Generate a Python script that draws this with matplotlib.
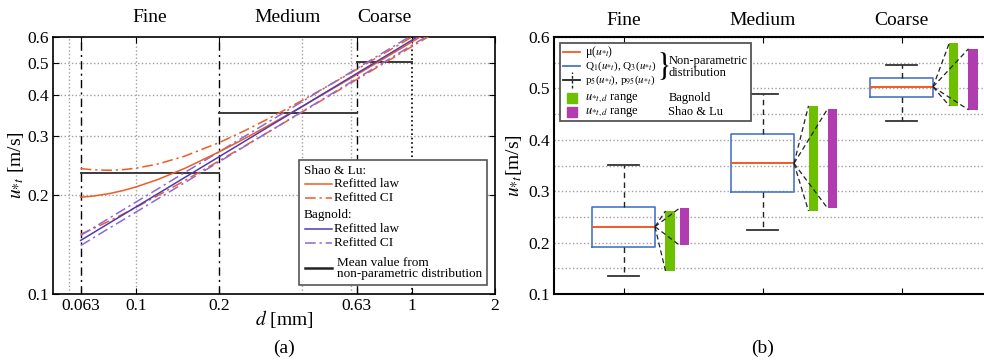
import numpy as np
import matplotlib
matplotlib.use('Agg')
import matplotlib.pyplot as plt
from matplotlib.patches import Rectangle
from matplotlib.lines import Line2D

plt.rcParams['font.family'] = ['Liberation Serif', 'DejaVu Serif']
plt.rcParams['mathtext.fontset'] = 'stix'

# === Dati pannello (a): soglia u*t in funzione di d ===
d_mm = [0.063, 0.07, 0.08, 0.09, 0.1, 0.12, 0.15, 0.2, 0.25, 0.3, 0.4, 0.5, 0.63, 0.8, 1.0, 1.2]
shao_law = [0.1964, 0.1979, 0.2014, 0.2058, 0.2110, 0.2222, 0.2400, 0.2693, 0.2969, 0.3228,
            0.3698, 0.4120, 0.4613, 0.5190, 0.5797, 0.6348]
shao_ci_hi = [0.2397, 0.2377, 0.2369, 0.2380, 0.2404, 0.2475, 0.2614, 0.2873, 0.3134, 0.3386,
              0.3855, 0.4281, 0.4784, 0.5376, 0.6000, 0.6567]
shao_ci_lo = [0.1517, 0.1578, 0.1664, 0.1748, 0.1830, 0.1987, 0.2204, 0.2530, 0.2820, 0.3085,
              0.3557, 0.3974, 0.4458, 0.5022, 0.5614, 0.6150]
bag_law = [0.1453, 0.1533, 0.1640, 0.1740, 0.1835, 0.2012, 0.2252, 0.2604, 0.2915, 0.3196,
           0.3695, 0.4137, 0.4649, 0.5244, 0.5870, 0.6437]
bag_ci_hi = [0.1504, 0.1587, 0.1697, 0.1801, 0.1899, 0.2082, 0.2331, 0.2695, 0.3017, 0.3308,
             0.3824, 0.4282, 0.4812, 0.5428, 0.6075, 0.6662]
bag_ci_lo = [0.1402, 0.1479, 0.1583, 0.1679, 0.1771, 0.1942, 0.2173, 0.2513, 0.2813, 0.3084,
             0.3566, 0.3992, 0.4486, 0.5060, 0.5665, 0.6212]

class_bounds = [0.063, 0.2, 0.63, 1.0]
class_names = ['Fine', 'Medium', 'Coarse']
mean_nonpar = [0.232, 0.354, 0.503]

# === Dati pannello (b): distribuzione non parametrica ===
p5 = [0.135, 0.2245, 0.437]
q1 = [0.191, 0.299, 0.483]
med = [0.231, 0.354, 0.503]
q3 = [0.269, 0.411, 0.521]
p95 = [0.3516, 0.489, 0.5455]
bag_range_lo = [0.145, 0.2615, 0.466]
bag_range_hi = [0.2615, 0.466, 0.589]
shao_range_lo = [0.195, 0.267, 0.4585]
shao_range_hi = [0.267, 0.460, 0.577]

# === Colori / stile ===
RED = '#f15a24'
PURPLE = '#4b3cb4'
PURPLE_CI = '#8a6ad8'
BLUE = '#4a74c9'
GREEN = '#6cc000'
MAGENTA = '#b03cb0'
GRID = '#a0a0a0'
DASHDOT = (0, (7, 2.5, 1.5, 2.5))

fig = plt.figure(figsize=(9.84, 3.61), dpi=100)
ax = fig.add_axes([53 / 984, 67 / 361, 442 / 984, 257 / 361])
bx = fig.add_axes([554 / 984, 67 / 361, 430 / 984, 257 / 361])

# =================== Pannello (a) ===================
ax.set_xscale('log')
ax.set_yscale('log')
ax.set_xlim(0.05, 2)
ax.set_ylim(0.1, 0.6)

for xg in [0.057, 0.1, 0.4, 0.6]:
    ax.axvline(xg, color=GRID, ls=':', lw=1, zorder=0)
for yg in [0.2, 0.3, 0.4, 0.5]:
    ax.axhline(yg, color=GRID, ls=':', lw=1, zorder=0)
for xb in class_bounds[:-1]:
    ax.axvline(xb, color='k', ls=(0, (6, 3, 1.5, 3)), lw=1, zorder=1)
ax.axvline(class_bounds[-1], color='k', ls=':', lw=1.2, zorder=1)

for i, m in enumerate(mean_nonpar):
    ax.plot([class_bounds[i], class_bounds[i + 1]], [m, m], color='#3a3a3a', lw=1.4, zorder=2)

ax.plot(d_mm, shao_ci_hi, color=RED, ls=DASHDOT, lw=1.1, zorder=3)
ax.plot(d_mm, shao_ci_lo, color=RED, ls=DASHDOT, lw=1.1, zorder=3)
ax.plot(d_mm, bag_ci_hi, color=PURPLE_CI, ls=DASHDOT, lw=1.1, zorder=3)
ax.plot(d_mm, bag_ci_lo, color=PURPLE_CI, ls=DASHDOT, lw=1.1, zorder=3)
ax.plot(d_mm, shao_law, color=RED, lw=1.1, zorder=4)
ax.plot(d_mm, bag_law, color=PURPLE, lw=1.1, zorder=4)

xt = [0.063, 0.1, 0.2, 0.63, 1, 2]
ax.set_xticks(xt)
ax.set_xticklabels(['0.063', '0.1', '0.2', '0.63', '1', '2'])
ax.set_yticks([0.1, 0.2, 0.3, 0.4, 0.5, 0.6])
ax.set_yticklabels(['0.1', '0.2', '0.3', '0.4', '0.5', '0.6'])
ax.minorticks_off()
ax.tick_params(direction='in', top=True, right=True, labelsize=12.5, length=4, pad=3)
ax.set_xlabel(r'$d$ [mm]', fontsize=14)
ax.xaxis.set_label_coords(0.523, -0.055)
ax.set_ylabel(r'$u_{*t}$ [m/s]', fontsize=14)
ax.yaxis.set_label_coords(-0.062, 0.5)
for sp in ax.spines.values():
    sp.set_linewidth(1.2)

for i, name in enumerate(class_names):
    xc = np.sqrt(class_bounds[i] * class_bounds[i + 1])
    ax.text(xc, 1.074, name, transform=ax.get_xaxis_transform(), ha='center', va='center', fontsize=14)

# legenda manuale (a)
T = ax.transAxes
ax.add_patch(Rectangle((0.557, 0.035), 0.425, 0.486, transform=T, facecolor='white',
                       edgecolor='#555555', lw=1.2, zorder=6))
lfs = 9.5
ax.text(0.568, 0.479, 'Shao & Lu:', transform=T, fontsize=lfs, va='center', zorder=7)
ax.add_line(Line2D([0.570, 0.631], [0.428, 0.428], transform=T, color=RED, lw=1.1, zorder=7))
ax.text(0.636, 0.428, 'Refitted law', transform=T, fontsize=lfs, va='center', zorder=7)
ax.add_line(Line2D([0.570, 0.631], [0.3735, 0.3735], transform=T, color=RED, ls=DASHDOT, lw=1.1, zorder=7))
ax.text(0.636, 0.3735, 'Refitted CI', transform=T, fontsize=lfs, va='center', zorder=7)
ax.text(0.568, 0.307, 'Bagnold:', transform=T, fontsize=lfs, va='center', zorder=7)
ax.add_line(Line2D([0.570, 0.631], [0.253, 0.253], transform=T, color=PURPLE, lw=1.1, zorder=7))
ax.text(0.636, 0.253, 'Refitted law', transform=T, fontsize=lfs, va='center', zorder=7)
ax.add_line(Line2D([0.570, 0.631], [0.198, 0.198], transform=T, color=PURPLE_CI, ls=DASHDOT, lw=1.1, zorder=7))
ax.text(0.636, 0.198, 'Refitted CI', transform=T, fontsize=lfs, va='center', zorder=7)
ax.add_line(Line2D([0.570, 0.631], [0.101, 0.101], transform=T, color='#222222', lw=1.8, zorder=7))
ax.text(0.6425, 0.099, 'Mean value from\nnon-parametric distribution', transform=T, fontsize=lfs,
        va='center', linespacing=0.95, zorder=7)

# =================== Pannello (b) ===================
pos = [1, 2, 3]
bx.set_xlim(0.5, 0.5 + 430 / 139)
bx.set_ylim(0.1, 0.6)
bx.set_yticks(np.arange(0.1, 0.61, 0.1))
bx.set_yticklabels(['0.1', '0.2', '0.3', '0.4', '0.5', '0.6'])
bx.set_yticks(np.arange(0.15, 0.6, 0.1), minor=True)
bx.grid(axis='y', which='both', color=GRID, ls=':', lw=1, zorder=0)
bx.set_axisbelow(True)

stats = [dict(med=med[i], q1=q1[i], q3=q3[i], whislo=p5[i], whishi=p95[i]) for i in range(3)]
box_w = 0.453
bx.bxp(stats, positions=pos, widths=box_w, capwidths=0.22, showfliers=False, manage_ticks=False,
       boxprops=dict(color=BLUE, lw=1.2),
       medianprops=dict(color=RED, lw=1.4),
       whiskerprops=dict(color='#222222', ls=(0, (4, 3)), lw=1),
       capprops=dict(color='#333333', lw=1.3))

bar_w = 0.065
green_off = [0.302, 0.331, 0.345]
mag_off = [0.403, 0.468, 0.482]
for i, p in enumerate(pos):
    gx = p + green_off[i]
    mx = p + mag_off[i]
    bx.bar(gx, bag_range_hi[i] - bag_range_lo[i], bottom=bag_range_lo[i], width=bar_w,
           align='edge', color=GREEN, zorder=3)
    bx.bar(mx, shao_range_hi[i] - shao_range_lo[i], bottom=shao_range_lo[i], width=bar_w,
           align='edge', color=MAGENTA, zorder=3)
    x0 = p + box_w / 2
    for xe, ye in [(gx, bag_range_lo[i]), (gx, bag_range_hi[i]),
                   (mx, shao_range_lo[i]), (mx, shao_range_hi[i])]:
        bx.plot([x0, xe], [med[i], ye], color='#222222', ls=(0, (4, 2.5)), lw=0.9, zorder=4)

bx.set_xticks(pos)
bx.set_xticklabels(class_names)
bx.tick_params(axis='x', top=True, bottom=True, labeltop=True, labelbottom=False,
               direction='in', length=4, labelsize=14, pad=6)
bx.tick_params(axis='y', which='both', direction='in', right=False, length=0, labelsize=12.5, pad=3)
bx.set_ylabel(r'$u_{*t}$[m/s]', fontsize=14)
bx.yaxis.set_label_coords(-0.07, 0.5)
bx.spines['right'].set_visible(False)
for sp in ['left', 'top', 'bottom']:
    bx.spines[sp].set_linewidth(1.5)

# legenda manuale (b)
B = bx.transAxes
bx.add_patch(Rectangle((0.014, 0.674), 0.444, 0.3015, transform=B, facecolor='white',
                       edgecolor='#555555', lw=1.3, zorder=6))
rfs = 9
sfs = 8
hx0, hx1, tx = 0.0209, 0.0605, 0.0721
bx.add_line(Line2D([hx0, hx1], [0.943, 0.943], transform=B, color=RED, lw=1.3, zorder=7))
bx.text(tx, 0.943, r'μ($u_{*t}$)', transform=B, fontsize=8.5, va='center', zorder=7)
bx.add_line(Line2D([hx0, hx1], [0.887, 0.887], transform=B, color=BLUE, lw=1.3, zorder=7))
bx.text(tx, 0.887, r'Q$_1$($u_{*t}$), Q$_3$($u_{*t}$)', transform=B, fontsize=sfs, va='center', zorder=7)
bx.add_line(Line2D([hx0, hx1], [0.833, 0.833], transform=B, color='#222222', lw=1.3, zorder=7))
bx.add_line(Line2D([0.0407, 0.0407], [0.802, 0.864], transform=B, color='#222222', ls=(0, (2, 1.5)),
                   lw=1, zorder=7))
bx.text(tx, 0.833, r'p$_5$($u_{*t}$), p$_{95}$($u_{*t}$)', transform=B, fontsize=sfs, va='center', zorder=7)
bx.plot([0.0407], [0.764], marker='s', ms=7, color=GREEN, transform=B, zorder=7, clip_on=False)
bx.text(tx, 0.764, r'$u_{*t,d}$ range', transform=B, fontsize=rfs, va='center', zorder=7)
bx.plot([0.0407], [0.707], marker='s', ms=7, color=MAGENTA, transform=B, zorder=7, clip_on=False)
bx.text(tx, 0.707, r'$u_{*t,d}$ range', transform=B, fontsize=rfs, va='center', zorder=7)
bx.text(0.2515, 0.887, r'$\}$', transform=B, fontsize=24, va='center', ha='center', zorder=7)
bx.text(0.266, 0.883, 'Non-parametric\ndistribution', transform=B, fontsize=rfs, va='center',
        linespacing=1.0, zorder=7)
bx.text(0.266, 0.764, 'Bagnold', transform=B, fontsize=rfs, va='center', zorder=7)
bx.text(0.266, 0.707, 'Shao & Lu', transform=B, fontsize=rfs, va='center', zorder=7)

# === didascalie ===
fig.text(284 / 984, 1 - 348 / 361, '(a)', ha='center', va='center', fontsize=14)
fig.text(763 / 984, 1 - 348 / 361, '(b)', ha='center', va='center', fontsize=14)

fig.savefig('out.png', dpi=100)
